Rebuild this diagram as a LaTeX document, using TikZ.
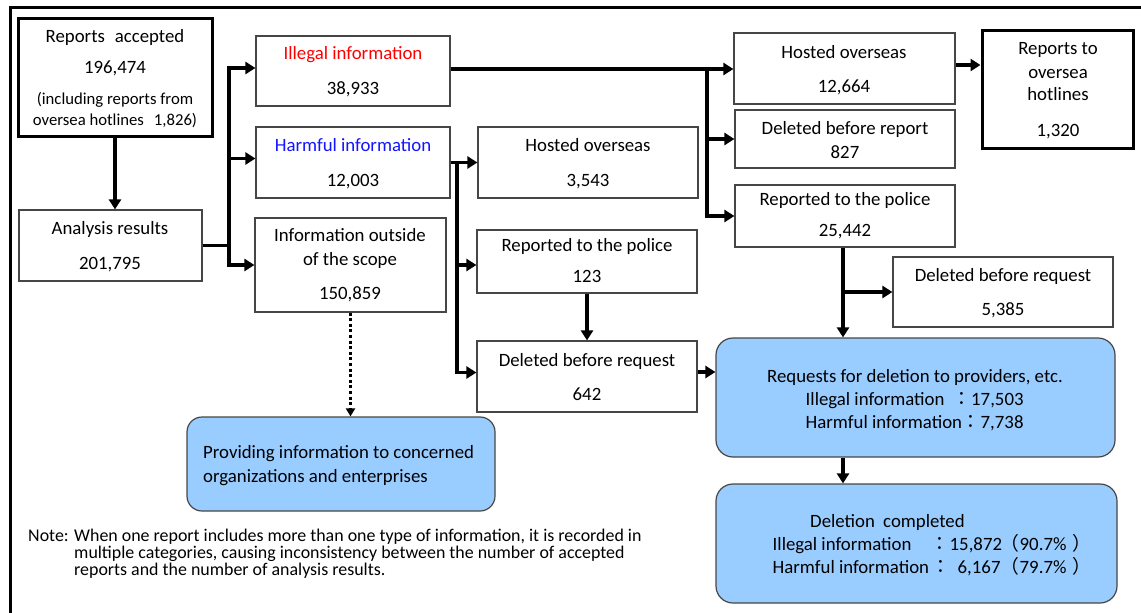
\documentclass[tikz,border=0pt]{standalone}
\usepackage{fontspec}
\setmainfont{Carlito}
\newfontfamily\cjk{Noto Sans CJK JP}
\usetikzlibrary{arrows.meta}
\definecolor{blueF}{RGB}{153,204,255}
\definecolor{txtred}{RGB}{255,0,0}
\definecolor{txtblue}{RGB}{20,20,255}
\definecolor{edge}{RGB}{70,70,70}
\newcommand\bx[6]{\node[#2, minimum width={(#5-#3)*1pt}, minimum height={(#6-#4)*1pt}] (#1) at ({(#3+#5)/2},{(#4+#6)/2}) {};}
\newcommand\putat[2]{\makebox[0pt][l]{\hspace{#1pt}#2}}
\begin{document}
\begin{tikzpicture}[x=1pt,y=-1pt,
  box/.style={draw=edge, line width=1.2pt, inner sep=0pt},
  thickbox/.style={draw=black, line width=3pt, inner sep=0pt},
  bluebox/.style={draw=edge, line width=1.2pt, fill=blueF, rounded corners=17pt, inner sep=0pt},
  txt/.style={anchor=base, inner sep=0pt, font=\fontsize{18.8}{22}\selectfont},
  txtl/.style={txt, anchor=base west},
  smalltxt/.style={txt, font=\fontsize{16.7}{20}\selectfont},
  notetxt/.style={anchor=base west, inner sep=0pt, font=\fontsize{17.9}{17}\selectfont},
  plain/.style={line width=3.3pt, line join=miter},
  conn/.style={plain, -{Triangle[length=10pt,width=12pt]}},
  conntwo/.style={plain, {Triangle[length=10pt,width=12pt]}-{Triangle[length=10pt,width=12pt]}},
  dotconn/.style={line width=3.3pt, dash pattern=on 3pt off 2.6pt, -{Triangle[length=8pt,width=9pt]}},
]
\useasboundingbox (0,0) rectangle (1141,613);
% outer frame
\draw[line width=3pt] (10,613) -- (10,7) -- (1141,7);

% boxes
\bx{acc}{thickbox}{18}{18}{212}{136}
\bx{ana}{box}{19}{210}{202}{281}
\bx{ill}{box}{256}{36}{450}{106}
\bx{har}{box}{256}{127}{450}{198}
\bx{out}{box}{255}{218}{446}{312}
\bx{hoa}{box}{734}{33}{955}{104}
\bx{dbr}{box}{735}{110}{955}{168}
\bx{rpa}{box}{735}{185}{955}{247}
\bx{rto}{thickbox}{982}{30}{1133}{148}
\bx{hob}{box}{478}{127}{698}{198}
\bx{rpb}{box}{477}{230}{697}{293}
\bx{dqa}{box}{893}{257}{1113}{327}
\bx{dqb}{box}{477}{341}{697}{412}
\bx{req}{bluebox}{716}{338}{1115}{457}
\bx{del}{bluebox}{716}{484}{1117}{603}
\bx{prov}{bluebox, rounded corners=15pt}{187}{417}{495}{511}

% texts
\node[txt] (acc1) at (115,42) {Reports\hspace{10pt}accepted};
\node[txt] (acc2) at (115,73) {196,474};
\node[smalltxt] (acc3) at (115,104) {(including reports from};
\node[smalltxt] (acc4) at (115,125) {oversea hotlines\hspace{10pt}1,826)};
\node[txt] (ana1) at (110,234) {Analysis results};
\node[txt] (ana2) at (110,269) {201,795};
\node[txt, text=txtred] (ill1) at (353,59) {Illegal information};
\node[txt] (ill2) at (353,94) {38,933};
\node[txt, text=txtblue] (har1) at (353,151) {Harmful information};
\node[txt] (har2) at (353,186) {12,003};
\node[txt] (out1) at (350,241) {Information outside};
\node[txt] (out2) at (350,265) {of the scope};
\node[txt] (out3) at (350,299) {150,859};
\node[txt] (hoa1) at (844,58) {Hosted overseas};
\node[txt] (hoa2) at (844,92) {12,664};
\node[txt] (dbr1) at (845,134) {Deleted before report};
\node[txt] (dbr2) at (845,158) {827};
\node[txt] (rpa1) at (845,205) {Reported to the police};
\node[txt] (rpa2) at (845,236) {25,442};
\node[txt] (rto1) at (1058,54) {Reports to};
\node[txt] (rto2) at (1058,78) {oversea};
\node[txt] (rto3) at (1058,100) {hotlines};
\node[txt] (rto4) at (1058,136) {1,320};
\node[txt] (hob1) at (588,151) {Hosted overseas};
\node[txt] (hob2) at (588,186) {3,543};
\node[txt] (rpb1) at (587,251) {Reported to the police};
\node[txt] (rpb2) at (587,282) {123};
\node[txt] (dqa1) at (1003,281) {Deleted before request};
\node[txt] (dqa2) at (1003,315) {5,385};
\node[txt] (dqb1) at (587,366) {Deleted before request};
\node[txt] (dqb2) at (587,400) {642};
\node[txt] (req1) at (915,382) {Requests for deletion to providers, etc.};
\node[txtl] (req2) at (805,405) {\putat{0}{Illegal information}\putat{146.5}{\cjk ：}\putat{165.5}{17,503}};
\node[txtl] (req3) at (805,428) {\putat{0}{Harmful information}\putat{156}{\cjk ：}\putat{175}{7,738}};
\node[txtl] (del1) at (810,527) {Deletion\hspace{4pt} completed};
\node[txtl] (del2) at (772,550) {\putat{0}{Illegal information}\putat{158}{\cjk ：}\putat{177}{15,872}\putat{228}{\cjk （}\putat{247}{90.7\%}\putat{300}{\cjk ）}};
\node[txtl] (del3) at (772,573) {\putat{0}{Harmful information}\putat{158.6}{\cjk ：}\putat{185}{6,167}\putat{228}{\cjk （}\putat{247}{79.7\%}\putat{300}{\cjk ）}};
\node[txtl] (prov1) at (203,458) {Providing information to concerned};
\node[txtl] (prov2) at (203,482) {organizations and enterprises};
\node[notetxt] (note0) at (28,541) {Note:};
\node[notetxt] (note1) at (74,541) {When one report includes more than one type of information, it is recorded in};
\node[notetxt] (note2) at (74,558) {multiple categories, causing inconsistency between the number of accepted};
\node[notetxt] (note3) at (74,575) {reports and the number of analysis results.};

% connectors
\draw[conn] (acc.south) -- (acc.south |- ana.north);
\coordinate (ja) at (229,246);
\coordinate (illin) at ([yshift=3pt]ill.west);
\coordinate (harin) at ([yshift=4pt]har.west);
\draw[plain] (ana.east) -- (ana.east -| ja);
\draw[conntwo] (illin) -- (ja |- illin) -- (ja |- out.west) -- (out.west);
\draw[conn] (ja |- harin) -- (harin);

\coordinate (jb) at (707,0);
\coordinate (illout) at ([yshift=2pt]ill.east);
\draw[conn] (illout) -- (illout -| hoa.west);
\draw[conn] (jb |- illout) -- (jb |- rpa.west) -- (rpa.west);
\draw[conn] (jb |- dbr.west) -- (dbr.west);
\coordinate (hoaout) at ([yshift=3.5pt]hoa.east);
\draw[conn] (hoaout) -- (hoaout -| rto.west);

\coordinate (jc) at (457,0);
\coordinate (rpbin) at ([yshift=-3.5pt]rpb.west);
\coordinate (dqbin) at ([yshift=4pt]dqb.west);
\draw[conn] (har.east) -- (har.east -| hob.west);
\draw[conn] (jc |- har.east) -- (jc |- dqbin) -- (dqbin);
\draw[conn] (jc |- rpbin) -- (rpbin);
\draw[conn] (rpb.south) -- (rpb.south |- dqb.north);
\coordinate (dqbout) at ([yshift=4.5pt]dqb.east);
\draw[conn] (dqbout) -- (dqbout -| req.west);

\coordinate (rpadown) at ([xshift=-2pt]rpa.south);
\draw[conn] (rpadown) -- (rpadown |- req.north);
\draw[conn] (rpadown |- dqa.west) -- (dqa.west);
\draw[conn] (rpadown |- req.south) -- (rpadown |- del.north);
\draw[dotconn] (out.south) -- (out.south |- prov.north);
\end{tikzpicture}
\end{document}
